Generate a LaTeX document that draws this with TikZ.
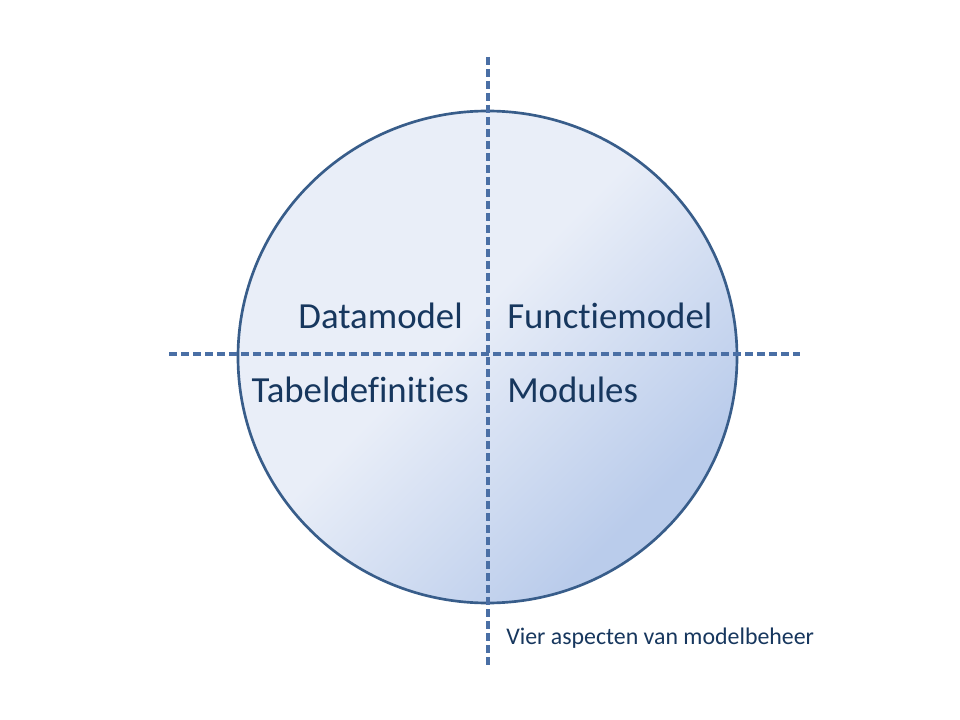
\documentclass[tikz,border=0pt]{standalone}
\usepackage{fontspec}
\setmainfont{Carlito}[RawFeature={-liga;-clig;-calt;-dlig}]
\definecolor{txtblue}{HTML}{17375E}
\definecolor{lineblue}{HTML}{4A6FA5}
\definecolor{rimblue}{HTML}{385D8A}
\definecolor{lightfill}{HTML}{E9EEF8}
\definecolor{darkfill}{HTML}{BACCEB}
\pgfdeclarehorizontalshading{circshade}{100bp}{color(0bp)=(lightfill); color(46bp)=(lightfill); color(72bp)=(darkfill); color(100bp)=(darkfill)}
\begin{document}
\begin{tikzpicture}[x=0.75pt,y=-0.75pt,
  axisline/.style={draw=lineblue,line width=2.4pt,dash pattern=on 6pt off 3pt},
  bigtext/.style={font=\fontsize{27.6}{32}\selectfont,text=txtblue,inner sep=0pt},
  captext/.style={font=\fontsize{17.9}{21}\selectfont,text=txtblue,inner sep=0pt}]
\useasboundingbox (0,0) rectangle (960,720);
\fill[white] (0,0) rectangle (960,720);
% circle
\path[shading=circshade,shading angle=-45,draw=rimblue,line width=2pt] (487.5,357) ellipse [x radius=249.5,y radius=246];
% axes
\coordinate (vtop) at (488,57);
\coordinate (vbot) at (488,665);
\coordinate (hleft) at (169,354);
\coordinate (hright) at (800,354);
\draw[axisline] (vtop) -- (vbot);
\draw[axisline] (hleft) -- (hright);
% labels
\node[bigtext,anchor=base east] (dm) at (463,329) {Datamodel};
\node[bigtext,anchor=base west] (fm) at (507,329) {Func\kern0pt tiemodel};
\node[bigtext,anchor=base east] (td) at (469,402) {Tabeldefini\kern0pt ties};
\node[bigtext,anchor=base west] (mo) at (507,402) {Modules};
\node[captext,anchor=base west] (cap) at (506,644) {Vier aspecten van modelbeheer};
\end{tikzpicture}
\end{document}
